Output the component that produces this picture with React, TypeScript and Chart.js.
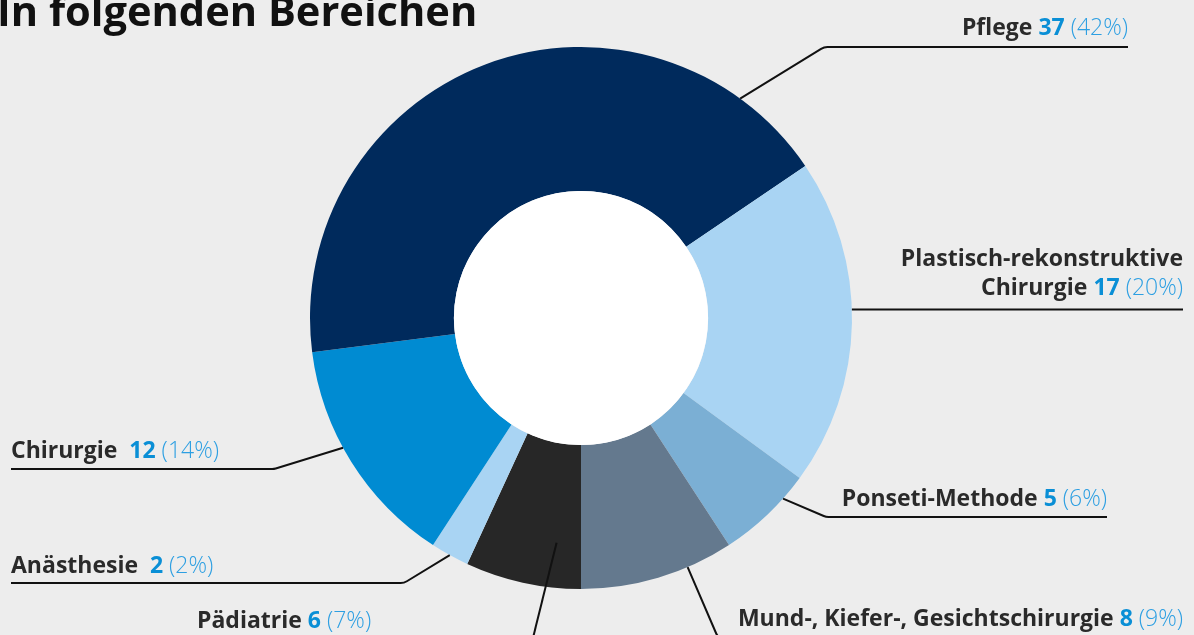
import React, { useEffect, useRef } from "react";
import Chart from "chart.js/auto";

// ---- data ----
const categories = [
  "Pädiatrie",
  "Anästhesie",
  "Chirurgie",
  "Pflege",
  "Plastisch-rekonstruktive Chirurgie",
  "Ponseti-Methode",
  "Mund-, Kiefer-, Gesichtschirurgie",
];
const values = [6, 2, 12, 37, 17, 5, 8];
const percentLabels = ["(7%)", "(2%)", "(14%)", "(42%)", "(20%)", "(6%)", "(9%)"];
const sliceColors = ["#272727", "#a9d4f3", "#008bd2", "#002a5c", "#a9d4f3", "#7bafd4", "#64798e"];
const titleText = "In folgenden Bereichen";

// label text lines (name parts), number appended to the last line
const labelLines = [
  ["Pädiatrie"],
  ["Anästhesie"],
  ["Chirurgie"],
  ["Pflege"],
  ["Plastisch-rekonstruktive", "Chirurgie"],
  ["Ponseti-Methode"],
  ["Mund-, Kiefer-, Gesichtschirurgie"],
];

// layout of annotations (positions only)
type LabelLayout = {
  align: "left" | "right";
  x: number;
  baseline: number;
  lineGap: number;
  nameGap: string;
  frac: number; // where along the arc the leader starts
  rFactor: number; // radius factor of leader start
  via: { x: number; y: number | null }[]; // null y = same as anchor
};
const layouts: LabelLayout[] = [
  { align: "left", x: 197, baseline: 628, lineGap: 30, nameGap: " ", frac: 0.25, rFactor: 0.834, via: [{ x: 530, y: 650 }] },
  { align: "left", x: 11, baseline: 573, lineGap: 30, nameGap: "  ", frac: 0.5, rFactor: 1.0, via: [{ x: 404, y: 583 }, { x: 11, y: 583 }] },
  { align: "left", x: 11, baseline: 458, lineGap: 30, nameGap: "  ", frac: 0.57, rFactor: 1.0, via: [{ x: 274, y: 469 }, { x: 11, y: 469 }] },
  { align: "right", x: 1128, baseline: 35, lineGap: 30, nameGap: " ", frac: 0.87, rFactor: 1.0, via: [{ x: 824, y: 47 }, { x: 1128, y: 47 }] },
  { align: "right", x: 1183, baseline: 266, lineGap: 29, nameGap: " ", frac: 0.46, rFactor: 1.0, via: [{ x: 1183, y: null }] },
  { align: "right", x: 1107, baseline: 506, lineGap: 30, nameGap: " ", frac: 0.27, rFactor: 1.0, via: [{ x: 826, y: 517 }, { x: 1107, y: 517 }] },
  { align: "right", x: 1183, baseline: 626, lineGap: 30, nameGap: " ", frac: 0.3, rFactor: 1.0, via: [{ x: 719, y: 640 }, { x: 1183, y: 640 }] },
];

const FONT = '"Open Sans", "Noto Sans", sans-serif';
const BOLD = `700 23px ${FONT}`;
const LIGHT = `300 23px ${FONT}`;
const DARK = "#2a2a2a";
const NUM_BLUE = "#0a8fd6";
const PCT_BLUE = "#2d9fe2";

const annotationPlugin = {
  id: "annotations",
  beforeDraw(chart: any) {
    const ctx = chart.ctx;
    ctx.save();
    ctx.fillStyle = "#ededed";
    ctx.fillRect(0, 0, chart.width, chart.height);
    ctx.restore();
  },
  afterDraw(chart: any) {
    const ctx: CanvasRenderingContext2D = chart.ctx;
    const meta = chart.getDatasetMeta(0);
    const first = meta.data[0];
    ctx.save();
    // white centre
    ctx.fillStyle = "#ffffff";
    ctx.beginPath();
    ctx.arc(first.x, first.y, first.innerRadius, 0, Math.PI * 2);
    ctx.fill();

    // title
    ctx.fillStyle = "#111111";
    ctx.font = `700 41.6px ${FONT}`;
    ctx.textAlign = "left";
    ctx.textBaseline = "alphabetic";
    ctx.fillText(titleText, -3, 26);

    // leaders
    ctx.strokeStyle = "#111111";
    ctx.lineWidth = 2;
    ctx.lineJoin = "round";
    meta.data.forEach((arc: any, i: number) => {
      const lay = layouts[i];
      const a = arc.startAngle + lay.frac * (arc.endAngle - arc.startAngle);
      const r = arc.outerRadius * lay.rFactor;
      const p0 = { x: arc.x + r * Math.cos(a), y: arc.y + r * Math.sin(a) };
      const pts = [p0, ...lay.via.map((v) => ({ x: v.x, y: v.y === null ? p0.y : v.y }))];
      ctx.beginPath();
      ctx.moveTo(pts[0].x, pts[0].y);
      for (let k = 1; k < pts.length - 1; k++) {
        ctx.arcTo(pts[k].x, pts[k].y, pts[k + 1].x, pts[k + 1].y, 12);
      }
      ctx.lineTo(pts[pts.length - 1].x, pts[pts.length - 1].y);
      ctx.stroke();
    });

    // labels
    ctx.textAlign = "left";
    labelLines.forEach((lines, i) => {
      const lay = layouts[i];
      lines.forEach((line, li) => {
        const isLast = li === lines.length - 1;
        const parts: { t: string; font: string; color: string }[] = [
          { t: line, font: BOLD, color: DARK },
        ];
        if (isLast) {
          parts.push({ t: lay.nameGap + String(values[i]), font: BOLD, color: NUM_BLUE });
          parts.push({ t: " " + percentLabels[i], font: LIGHT, color: PCT_BLUE });
        }
        const widths = parts.map((p) => {
          ctx.font = p.font;
          return ctx.measureText(p.t).width;
        });
        const total = widths.reduce((s, w) => s + w, 0);
        let x = lay.align === "right" ? lay.x - total : lay.x;
        const y = lay.baseline + li * lay.lineGap;
        parts.forEach((p, k) => {
          ctx.font = p.font;
          ctx.fillStyle = p.color;
          ctx.fillText(p.t, x, y);
          x += widths[k];
        });
      });
    });
    ctx.restore();
  },
};

export default function App() {
  const canvasRef = useRef<HTMLCanvasElement | null>(null);
  useEffect(() => {
    document.body.style.margin = "0";
    const canvas = canvasRef.current;
    if (!canvas) return;
    const chart = new Chart(canvas, {
      type: "doughnut",
      data: {
        labels: categories,
        datasets: [
          {
            data: values,
            backgroundColor: sliceColors,
            borderWidth: 0,
            hoverOffset: 0,
          },
        ],
      },
      options: {
        responsive: false,
        animation: false,
        devicePixelRatio: 1,
        rotation: 180,
        cutout: "46.9%",
        layout: { padding: { left: 310, right: 342, top: 47, bottom: 46 } },
        plugins: {
          legend: { display: false },
          tooltip: { enabled: false },
        },
        events: [],
      },
      plugins: [annotationPlugin],
    });
    return () => chart.destroy();
  }, []);
  return (
    <div style={{ width: 1194, height: 635, overflow: "hidden" }}>
      <canvas ref={canvasRef} width={1194} height={635} style={{ display: "block" }} />
    </div>
  );
}
